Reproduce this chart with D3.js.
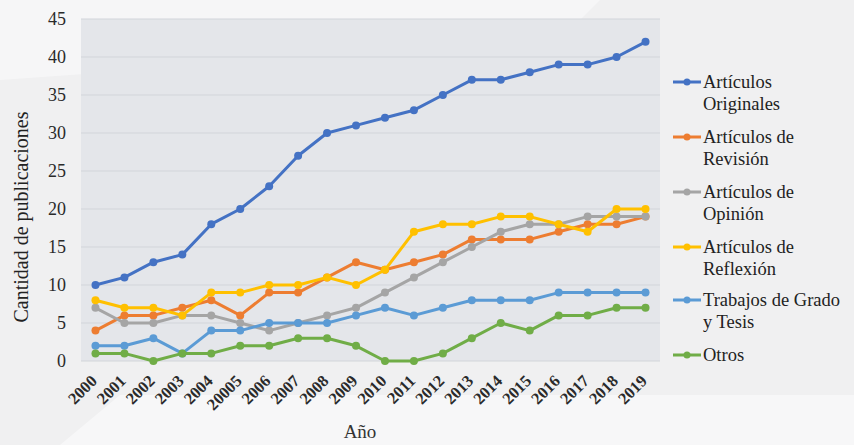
<!DOCTYPE html>
<html><head><meta charset="utf-8">
<script src="https://cdn.jsdelivr.net/npm/d3@7/dist/d3.min.js"></script>
<style>html,body{margin:0;padding:0;background:#f1f1f2;}svg{display:block;}</style>
</head><body><svg id="c" width="854" height="445" font-family="Liberation Serif"></svg>
<script>
const years = ["2000","2001","2002","2003","2004","20005","2006","2007","2008","2009","2010","2011","2012","2013","2014","2015","2016","2017","2018","2019"];
const originales = [10,11,13,14,18,20,23,27,30,31,32,33,35,37,37,38,39,39,40,42];
const revision   = [4,6,6,7,8,6,9,9,11,13,12,13,14,16,16,16,17,18,18,19];
const opinion    = [7,5,5,6,6,5,4,5,6,7,9,11,13,15,17,18,18,19,19,19];
const reflexion  = [8,7,7,6,9,9,10,10,11,10,12,17,18,18,19,19,18,17,20,20];
const trabajos   = [2,2,3,1,4,4,5,5,5,6,7,6,7,8,8,8,9,9,9,9];
const otros      = [1,1,0,1,1,2,2,3,3,2,0,0,1,3,5,4,6,6,7,7];
const yTicks = [0,5,10,15,20,25,30,35,40,45];
const seriesNames = [["Artículos","Originales"],["Artículos de","Revisión"],["Artículos de","Opinión"],["Artículos de","Reflexión"],["Trabajos de Grado","y Tesis"],["Otros"]];
const seriesValues = [originales, revision, opinion, reflexion, trabajos, otros];
const colors = ["#4472C4","#ED7D31","#A5A5A5","#FFC000","#5B9BD5","#70AD47"];

const FONT = "Liberation Serif";
const svg = d3.select("#c");
svg.append("rect").attr("width",854).attr("height",445).attr("fill","#f0f0f1");
svg.append("path").attr("d","M0,0 L600,0 L560,40 L0,80 Z").attr("fill","#f6f6f7");
svg.append("path").attr("d","M60,445 L120,395 L854,395 L854,445 Z").attr("fill","#f7f7f8");

const L=81, R=660, T=19, B=361;
const x = d3.scalePoint().domain(years).range([L,R]).padding(0.5);
const y = d3.scaleLinear().domain([0,45]).range([B,T]);

svg.append("rect").attr("x",L).attr("y",T).attr("width",R-L).attr("height",B-T).attr("fill","#e4e6ea");

svg.append("g").selectAll("line").data(yTicks).join("line")
  .attr("x1",L).attr("x2",R).attr("y1",d=>y(d)).attr("y2",d=>y(d))
  .attr("stroke","#d2d5da").attr("stroke-width",1);

const ya = svg.append("g").attr("transform",`translate(${L},0)`)
  .call(d3.axisLeft(y).tickValues(yTicks).tickSize(0).tickPadding(15));
ya.attr("font-family",FONT);
ya.select(".domain").remove();
ya.selectAll("text").attr("font-size",18).attr("fill","#2a2a2a").attr("font-family",FONT);

const xa = svg.append("g").attr("transform",`translate(0,${B})`)
  .call(d3.axisBottom(x).tickSize(0).tickPadding(0));
xa.attr("font-family",FONT);
xa.select(".domain").remove();
xa.selectAll("text").attr("font-size",16.5).attr("font-weight","bold").attr("fill","#2a2a2a").attr("font-family",FONT)
  .attr("text-anchor","end").attr("dy",0)
  .attr("transform","translate(2,21) rotate(-45)");

svg.append("text").attr("transform","translate(28,217) rotate(-90)").attr("text-anchor","middle")
  .attr("font-family",FONT).attr("font-size",20).attr("fill","#222").text("Cantidad de publicaciones");
svg.append("text").attr("x",360).attr("y",438).attr("text-anchor","middle")
  .attr("font-family",FONT).attr("font-size",19).attr("fill","#333").text("Año");

const line = d3.line().x((d,i)=>x(years[i])).y(d=>y(d));
seriesValues.forEach((vals,k)=>{
  const g = svg.append("g");
  g.append("path").datum(vals).attr("d",line).attr("fill","none")
    .attr("stroke",colors[k]).attr("stroke-width",3).attr("stroke-linejoin","round");
  g.selectAll("circle").data(vals).join("circle")
    .attr("cx",(d,i)=>x(years[i])).attr("cy",d=>y(d)).attr("r",4).attr("fill",colors[k]);
});

const legY = [82,137,192,247,300,355];
seriesNames.forEach((lines,k)=>{
  const g = svg.append("g").attr("transform",`translate(673,${legY[k]})`);
  g.append("line").attr("x1",0).attr("x2",28).attr("stroke",colors[k]).attr("stroke-width",3);
  g.append("circle").attr("cx",14).attr("r",3.5).attr("fill",colors[k]);
  lines.forEach((t,j)=>{
    g.append("text").attr("x",30).attr("y",6+j*22).attr("font-family",FONT).attr("font-size",18.5)
      .attr("fill","#222").text(t);
  });
});
</script></body></html>
